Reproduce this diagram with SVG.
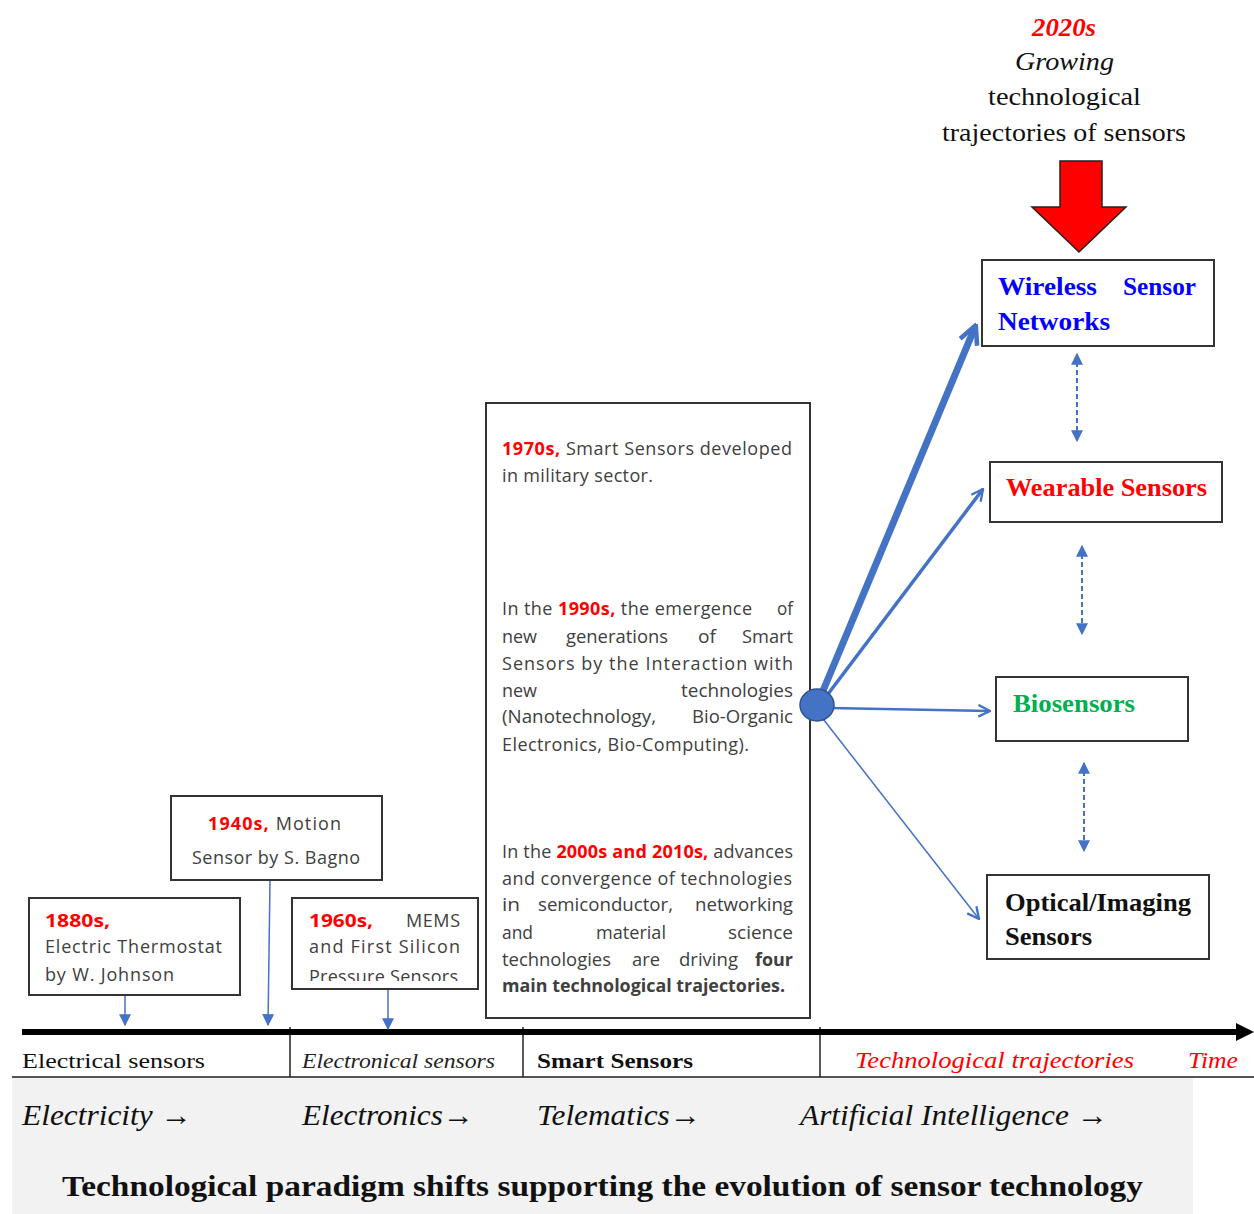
<svg xmlns="http://www.w3.org/2000/svg" width="1254" height="1214" viewBox="0 0 1254 1214">
<style>
.box{fill:#fff;stroke:#333;stroke-width:2}
.sans{font-family:"Open Sans","DejaVu Sans",sans-serif;font-size:18px;fill:#404040}
.yr{font-weight:bold;fill:#ff0000}
.serif{font-family:"Liberation Serif","DejaVu Serif",serif}
.blue{stroke:#4472c4;fill:none}
.dash{stroke:#4472c4;stroke-width:2;stroke-dasharray:5,3;fill:none}
</style>
<defs>
<marker id="tri2" viewBox="0 0 10 10" refX="9" refY="5" markerWidth="12" markerHeight="12" orient="auto-start-reverse" markerUnits="userSpaceOnUse">
<path d="M0,0 L10,5 L0,10 z" fill="#4472c4"/>
</marker>
<marker id="open" viewBox="0 0 12 12" refX="11" refY="6" markerWidth="14" markerHeight="14" orient="auto" markerUnits="userSpaceOnUse">
<path d="M1,1 L11,6 L1,11" fill="none" stroke="#4472c4" stroke-width="2"/>
</marker>
<marker id="openBig" viewBox="0 0 12 12" refX="10" refY="6" markerWidth="22" markerHeight="22" orient="auto" markerUnits="userSpaceOnUse">
<path d="M1,1 L11,6 L1,11" fill="none" stroke="#4472c4" stroke-width="2.5"/>
</marker>
<clipPath id="clip1960"><rect x="293" y="899" width="184" height="82"/></clipPath>
</defs>

<!-- bottom band -->
<g id="band">
<rect x="12" y="1078" width="1181" height="136" fill="#f2f2f2"/>
<line x1="12" y1="1077" x2="1254" y2="1077" stroke="#555" stroke-width="2"/>
<line x1="290" y1="1027" x2="290" y2="1077" stroke="#222" stroke-width="1.5"/>
<line x1="523" y1="1027" x2="523" y2="1077" stroke="#222" stroke-width="1.5"/>
<line x1="820" y1="1027" x2="820" y2="1077" stroke="#222" stroke-width="1.5"/>
<text class="serif" x="22" y="1068" font-size="22" fill="#111" textLength="183" lengthAdjust="spacingAndGlyphs">Electrical sensors</text>
<text class="serif" x="302" y="1068" font-size="22" font-style="italic" fill="#222" textLength="193" lengthAdjust="spacingAndGlyphs">Electronical sensors</text>
<text class="serif" x="537" y="1068" font-size="22" font-weight="bold" fill="#111" textLength="156" lengthAdjust="spacingAndGlyphs">Smart Sensors</text>
<text class="serif" x="855" y="1068" font-size="23" font-style="italic" fill="#ff0000" textLength="279" lengthAdjust="spacingAndGlyphs">Technological trajectories</text>
<text class="serif" x="1188" y="1068" font-size="23" font-style="italic" fill="#ff0000" textLength="50" lengthAdjust="spacingAndGlyphs">Time</text>
<text class="serif" x="22" y="1125" font-size="30" font-style="italic" fill="#111" textLength="170" lengthAdjust="spacingAndGlyphs">Electricity →</text>
<text class="serif" x="302" y="1125" font-size="30" font-style="italic" fill="#111" textLength="172" lengthAdjust="spacingAndGlyphs">Electronics→</text>
<text class="serif" x="537" y="1125" font-size="30" font-style="italic" fill="#111" textLength="164" lengthAdjust="spacingAndGlyphs">Telematics→</text>
<text class="serif" x="800" y="1125" font-size="30" font-style="italic" fill="#111" textLength="308" lengthAdjust="spacingAndGlyphs">Artificial Intelligence →</text>
<text class="serif" x="62" y="1196" font-size="29" font-weight="bold" fill="#111" textLength="1081" lengthAdjust="spacingAndGlyphs">Technological paradigm shifts supporting the evolution of sensor technology</text>
</g>

<!-- timeline -->
<g id="timeline">
<line x1="22" y1="1032" x2="1238" y2="1032" stroke="#000" stroke-width="6"/>
<path d="M1236,1023 L1254,1032 L1236,1041 z" fill="#000"/>
</g>

<!-- connectors -->
<g id="connectors">
<line class="blue" x1="125" y1="996" x2="125" y2="1025" stroke-width="1.5" marker-end="url(#tri2)"/>
<line class="blue" x1="270" y1="881" x2="268" y2="1025" stroke-width="1.5" marker-end="url(#tri2)"/>
<line class="blue" x1="388" y1="990" x2="388" y2="1029" stroke-width="1.5" marker-end="url(#tri2)"/>
<line class="dash" x1="1077" y1="354" x2="1077" y2="441" marker-start="url(#tri2)" marker-end="url(#tri2)"/>
<line class="dash" x1="1082" y1="546" x2="1082" y2="634" marker-start="url(#tri2)" marker-end="url(#tri2)"/>
<line class="dash" x1="1084" y1="763" x2="1084" y2="851" marker-start="url(#tri2)" marker-end="url(#tri2)"/>
<line class="blue" x1="820" y1="698" x2="975" y2="327" stroke-width="7" marker-end="url(#openBig)"/>
<line class="blue" x1="825" y1="698" x2="983" y2="489" stroke-width="3.5" marker-end="url(#open)"/>
<line class="blue" x1="830" y1="708" x2="990" y2="711" stroke-width="2.5" marker-end="url(#open)"/>
<line class="blue" x1="820" y1="715" x2="979" y2="919" stroke-width="1.5" marker-end="url(#open)"/>
</g>

<!-- node: 1880s -->
<g id="n1880">
<rect class="box" x="29" y="898" width="211" height="97"/>
<text class="sans" x="45" y="927" textLength="65" lengthAdjust="spacingAndGlyphs"><tspan class="yr">1880s,</tspan></text>
<text class="sans" x="45" y="953" textLength="177" lengthAdjust="spacing">Electric Thermostat</text>
<text class="sans" x="45" y="981" textLength="129" lengthAdjust="spacing">by W. Johnson</text>
</g>

<!-- node: 1940s -->
<g id="n1940">
<rect class="box" x="171" y="796" width="211" height="84"/>
<text class="sans" x="208" y="830" textLength="133" lengthAdjust="spacing"><tspan class="yr">1940s,</tspan> Motion</text>
<text class="sans" x="192" y="864" textLength="168" lengthAdjust="spacing">Sensor by S. Bagno</text>
</g>

<!-- node: 1960s -->
<g id="n1960">
<rect class="box" x="292" y="898" width="186" height="91"/>
<text class="sans" x="309" y="927" textLength="64" lengthAdjust="spacingAndGlyphs"><tspan class="yr">1960s,</tspan></text>
<text class="sans" x="406" y="927" textLength="54" lengthAdjust="spacing">MEMS</text>
<text class="sans" x="309" y="953" textLength="151" lengthAdjust="spacing">and First Silicon</text>
<g clip-path="url(#clip1960)"><text class="sans" x="309" y="983" textLength="149" lengthAdjust="spacing">Pressure Sensors</text></g>
</g>

<!-- node: smart sensors big box -->
<g id="nSmart">
<rect class="box" x="486" y="403" width="324" height="615"/>
<text class="sans" x="502" y="455" textLength="290" lengthAdjust="spacing"><tspan class="yr">1970s,</tspan> Smart Sensors developed</text>
<text class="sans" x="502" y="482" textLength="151" lengthAdjust="spacing">in military sector.</text>
<text class="sans" x="502" y="615" textLength="250" lengthAdjust="spacing"><tspan>In the </tspan><tspan class="yr">1990s,</tspan><tspan> the emergence</tspan></text>
<text class="sans" x="777" y="615" textLength="16" lengthAdjust="spacingAndGlyphs">of</text>
<text class="sans" x="502" y="643" textLength="35" lengthAdjust="spacingAndGlyphs">new</text>
<text class="sans" x="566" y="643" textLength="102" lengthAdjust="spacingAndGlyphs">generations</text>
<text class="sans" x="698" y="643" textLength="18" lengthAdjust="spacingAndGlyphs">of</text>
<text class="sans" x="742" y="643" textLength="51" lengthAdjust="spacingAndGlyphs">Smart</text>
<text class="sans" x="502" y="670" textLength="291" lengthAdjust="spacing">Sensors by the Interaction with</text>
<text class="sans" x="502" y="697" textLength="35" lengthAdjust="spacingAndGlyphs">new</text>
<text class="sans" x="681" y="697" textLength="112" lengthAdjust="spacingAndGlyphs">technologies</text>
<text class="sans" x="502" y="723" textLength="154" lengthAdjust="spacingAndGlyphs">(Nanotechnology,</text>
<text class="sans" x="692" y="723" textLength="101" lengthAdjust="spacingAndGlyphs">Bio-Organic</text>
<text class="sans" x="502" y="751" textLength="247" lengthAdjust="spacing">Electronics, Bio-Computing).</text>
<text class="sans" x="502" y="858" textLength="291" lengthAdjust="spacing"><tspan>In the </tspan><tspan class="yr">2000s and 2010s,</tspan><tspan> advances</tspan></text>
<text class="sans" x="502" y="885" textLength="290" lengthAdjust="spacing">and convergence of technologies</text>
<text class="sans" x="502" y="911" textLength="18" lengthAdjust="spacingAndGlyphs">in</text>
<text class="sans" x="538" y="911" textLength="135" lengthAdjust="spacingAndGlyphs">semiconductor,</text>
<text class="sans" x="695" y="911" textLength="98" lengthAdjust="spacingAndGlyphs">networking</text>
<text class="sans" x="502" y="939" textLength="31" lengthAdjust="spacingAndGlyphs">and</text>
<text class="sans" x="596" y="939" textLength="70" lengthAdjust="spacingAndGlyphs">material</text>
<text class="sans" x="728" y="939" textLength="65" lengthAdjust="spacingAndGlyphs">science</text>
<text class="sans" x="502" y="966" textLength="109" lengthAdjust="spacingAndGlyphs">technologies</text>
<text class="sans" x="632" y="966" textLength="28" lengthAdjust="spacingAndGlyphs">are</text>
<text class="sans" x="679" y="966" textLength="59" lengthAdjust="spacingAndGlyphs">driving</text>
<text class="sans" x="755" y="966" font-weight="bold" fill="#000" textLength="38" lengthAdjust="spacingAndGlyphs">four</text>
<text class="sans" x="502" y="992" font-weight="bold" fill="#000" textLength="283" lengthAdjust="spacingAndGlyphs">main technological trajectories.</text>
</g>

<!-- hub -->
<g id="hub">
<ellipse cx="817" cy="705" rx="17" ry="16" fill="#4472c4" stroke="#2f528f" stroke-width="1.5"/>
</g>

<!-- header -->
<g id="header">
<text class="serif" x="1032" y="36" font-size="25" font-weight="bold" font-style="italic" fill="#ff0000" textLength="64" lengthAdjust="spacingAndGlyphs">2020s</text>
<text class="serif" x="1015" y="70" font-size="25" font-style="italic" fill="#111" textLength="99" lengthAdjust="spacingAndGlyphs">Growing</text>
<text class="serif" x="988" y="105" font-size="25" fill="#111" textLength="153" lengthAdjust="spacingAndGlyphs">technological</text>
<text class="serif" x="942" y="141" font-size="25" fill="#111" textLength="244" lengthAdjust="spacingAndGlyphs">trajectories of sensors</text>
<path d="M1060,161 L1102,161 L1102,207 L1126,207 L1079,252 L1032,207 L1060,207 z" fill="#ff0000" stroke="#222" stroke-width="1.5"/>
</g>

<!-- node: WSN -->
<g id="nWSN">
<rect class="box" x="982" y="260" width="232" height="86"/>
<text class="serif" x="998" y="295" font-size="25" font-weight="bold" fill="#0000ff" textLength="99" lengthAdjust="spacingAndGlyphs">Wireless</text>
<text class="serif" x="1123" y="295" font-size="25" font-weight="bold" fill="#0000ff" textLength="73" lengthAdjust="spacingAndGlyphs">Sensor</text>
<text class="serif" x="998" y="330" font-size="25" font-weight="bold" fill="#0000ff" textLength="112" lengthAdjust="spacingAndGlyphs">Networks</text>
</g>

<!-- node: Wearable -->
<g id="nWearable">
<rect class="box" x="990" y="462" width="232" height="60"/>
<text class="serif" x="1006" y="496" font-size="25" font-weight="bold" fill="#ff0000" textLength="201" lengthAdjust="spacingAndGlyphs">Wearable Sensors</text>
</g>

<!-- node: Biosensors -->
<g id="nBio">
<rect class="box" x="996" y="677" width="192" height="64"/>
<text class="serif" x="1013" y="712" font-size="25" font-weight="bold" fill="#00b050" textLength="122" lengthAdjust="spacingAndGlyphs">Biosensors</text>
</g>

<!-- node: Optical -->
<g id="nOptical">
<rect class="box" x="987" y="875" width="222" height="84"/>
<text class="serif" x="1005" y="911" font-size="25" font-weight="bold" fill="#111" textLength="186" lengthAdjust="spacingAndGlyphs">Optical/Imaging</text>
<text class="serif" x="1005" y="945" font-size="25" font-weight="bold" fill="#111" textLength="87" lengthAdjust="spacingAndGlyphs">Sensors</text>
</g>
</svg>
